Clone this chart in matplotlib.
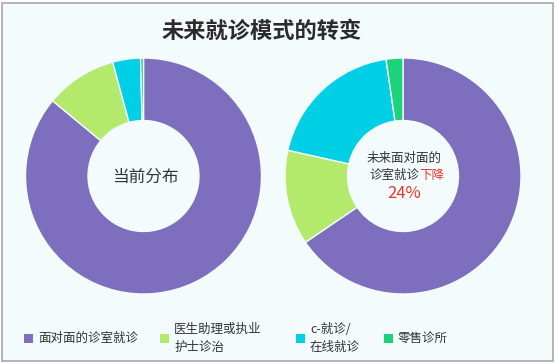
import matplotlib
matplotlib.use('Agg')
import matplotlib.pyplot as plt
from matplotlib.patches import Rectangle

plt.rcParams['font.family'] = ['Noto Sans CJK SC', 'DejaVu Sans']

# datos (porcentajes)
categorias = ['面对面的诊室就诊', '医生助理或执业\n护士诊治', 'c-就诊/\n在线就诊', '零售诊所']
actual = [86.0, 9.8, 3.8, 0.4]
futuro = [65.5, 13.0, 19.2, 2.3]
colores = ['#7D6FBE', '#B4EA6B', '#00CFE6', '#1DD37A']
fondo = '#F4FBFD'

W, H = 557, 363
fig = plt.figure(figsize=(W / 100, H / 100), dpi=100)
fig.patch.set_facecolor('white')

# marco gris con fondo claro (debajo de los ejes)
fig.patches.append(Rectangle((2 / W, 2 / H), 551 / W, 358 / H, transform=fig.transFigure,
                             facecolor=fondo, edgecolor='#A8A8A8', linewidth=1.2, zorder=-5))


def px(x, y):
    # pixeles (desde arriba-izquierda) a fracción de figura
    return x / W, 1 - y / H


R = 118
for cx, valores in [(143.5, actual), (403, futuro)]:
    x0, y0 = px(cx - R, 176 + R)
    ax = fig.add_axes([x0, y0, 2 * R / W, 2 * R / H])
    ax.pie(valores, colors=colores, startangle=90, counterclock=False, radius=1,
           wedgeprops=dict(width=0.53, edgecolor=fondo, linewidth=1.0))
    ax.set_xlim(-1, 1)
    ax.set_ylim(-1, 1)
    ax.axis('off')

# título
fig.text(*px(262, 31), '未来就诊模式的转变', ha='center', va='center',
         fontsize=16, fontweight='bold', color='#2B2B2B')

# textos centrales
fig.text(*px(145, 177), '当前分布', ha='center', va='center', fontsize=12, color='#333333')
fig.text(*px(404, 158), '未来面对面的', ha='center', va='center', fontsize=9, color='#333333')
fig.text(*px(419, 175), '诊室就诊', ha='right', va='center', fontsize=9, color='#333333')
fig.text(*px(419, 175), '下降', ha='left', va='center', fontsize=9, color='#E8362B')
fig.text(*px(404, 194), '24%', ha='center', va='center', fontsize=12, color='#E8362B')

# leyenda manual
pos_cuadro = [24, 160, 296, 384]
for xc, lab, col in zip(pos_cuadro, categorias, colores):
    x0, y0 = px(xc, 343)
    fig.patches.append(Rectangle((x0, y0), 9 / W, 9 / H, transform=fig.transFigure,
                                 facecolor=col, edgecolor='none'))
    fig.text(*px(xc + 14, 338.5), lab, ha='left', va='center', fontsize=9,
             color='#333333', linespacing=1.5)

fig.savefig('out.png', dpi=100, facecolor=fig.get_facecolor())
